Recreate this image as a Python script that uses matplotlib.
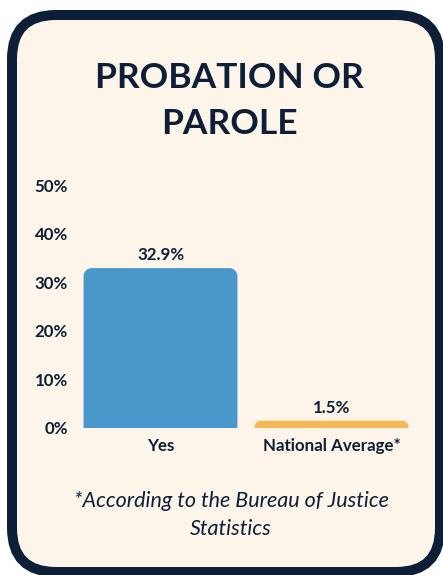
import matplotlib.pyplot as plt
from matplotlib.patches import FancyBboxPatch, PathPatch
from matplotlib.path import Path
from matplotlib.transforms import IdentityTransform

# Data
categories = ["Yes", "National Average*"]
values = [32.9, 1.5]
bar_colors = ["#4a98cb", "#f6b955"]
y_ticks = [0, 10, 20, 30, 40, 50]

navy = "#0d1f36"
cream = "#fdf5e9"
plt.rcParams['font.family'] = ['Lato', 'DejaVu Sans']

W, H = 443, 575
fig = plt.figure(figsize=(W / 100, H / 100), dpi=100, facecolor="white")

# card with thick rounded border (pixel coordinates)
card = FancyBboxPatch((12, 3), 428, 557, boxstyle="round,pad=0,rounding_size=44",
                      transform=IdentityTransform(), facecolor=cream,
                      edgecolor=navy, linewidth=7.2, zorder=0)
fig.add_artist(card)

ax = fig.add_axes([75 / W, (H - 428) / H, 342 / W, (428 - 185) / H])
ax.set_facecolor("none")
ax.set_xlim(-0.5, 1.5)
ax.set_ylim(0, 50)

bars = ax.bar(range(len(categories)), values, width=0.9, color=bar_colors)

# swap each bar for a version with rounded top corners
px_x = 342 / 2.0   # pixels per x unit
px_y = 243 / 50.0  # pixels per y unit
for b in bars:
    x0, w, h = b.get_x(), b.get_width(), b.get_height()
    r_px = min(8, h * px_y * 0.8)
    rx, ry = r_px / px_x, r_px / px_y
    k = 0.55
    verts = [(x0, 0), (x0, h - ry),
             (x0, h - ry + k * ry), (x0 + rx - k * rx, h), (x0 + rx, h),
             (x0 + w - rx, h),
             (x0 + w - rx + k * rx, h), (x0 + w, h - ry + k * ry), (x0 + w, h - ry),
             (x0 + w, 0), (x0, 0)]
    codes = [Path.MOVETO, Path.LINETO,
             Path.CURVE4, Path.CURVE4, Path.CURVE4,
             Path.LINETO,
             Path.CURVE4, Path.CURVE4, Path.CURVE4,
             Path.LINETO, Path.CLOSEPOLY]
    ax.add_patch(PathPatch(Path(verts, codes), facecolor=b.get_facecolor(),
                           edgecolor="none"))
    b.set_visible(False)
    ax.annotate(f"{h:.1f}%", (x0 + w / 2, h), xytext=(0, 3.5), textcoords="offset points",
                ha="center", va="bottom", fontsize=12.2, fontweight="bold", color=navy)

ax.set_yticks(y_ticks)
ax.set_yticklabels([f"{t}%" for t in y_ticks])
ax.set_xticks(range(len(categories)))
ax.set_xticklabels(categories)
ax.tick_params(length=0, labelsize=12.2, labelcolor=navy)
ax.tick_params(axis="y", pad=5)
ax.tick_params(axis="x", pad=7)
for lbl in ax.get_xticklabels() + ax.get_yticklabels():
    lbl.set_fontweight("bold")
for s in ax.spines.values():
    s.set_visible(False)

# title and footnote
fig.text(229.5 / W, (H - 101) / H, "PROBATION OR\nPAROLE", ha="center", va="center",
         fontsize=25.5, fontweight="bold", color=navy, linespacing=1.5)
fig.text(231 / W, (H - 515) / H, "*According to the Bureau of Justice\nStatistics",
         ha="center", va="center", fontsize=15.5, style="italic", color=navy,
         linespacing=1.45)

fig.savefig("out.png", dpi=100, facecolor="white")
